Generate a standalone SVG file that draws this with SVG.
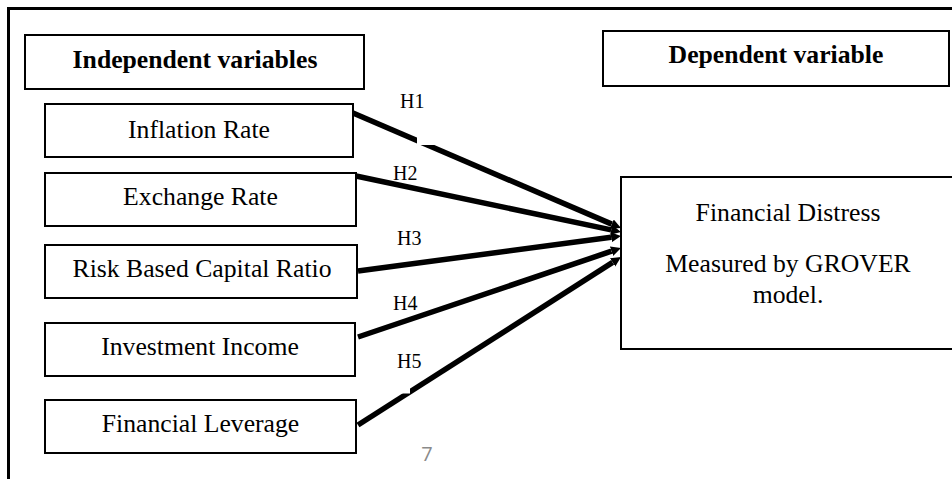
<svg xmlns="http://www.w3.org/2000/svg" width="952" height="479" viewBox="0 0 952 479">
<style>
.box{fill:#fff;stroke:#000;stroke-width:2}
.t{font-size:25.7px;fill:#000;text-anchor:middle}
.b{font-weight:bold}
.h{font-size:20px;fill:#000}
.c{stroke:#000;stroke-width:5.5;fill:none;marker-end:url(#ah)}
</style>
<defs>
<marker id="ah" markerUnits="userSpaceOnUse" markerWidth="12" markerHeight="12" refX="0" refY="5" orient="auto">
<path d="M0,0 L10,5 L0,10 z" fill="#000"/>
</marker>
</defs>
<rect x="0" y="0" width="952" height="479" fill="#fff"/>
<rect id="frame" x="8.5" y="8.5" width="960" height="490" fill="none" stroke="#000" stroke-width="3"/>

<g id="connectors" font-family="Liberation Serif, DejaVu Serif, serif">
<line class="c" x1="353" y1="113" x2="611.8" y2="224.1"/>
<line class="c" x1="356" y1="176" x2="611.2" y2="229.9"/>
<line class="c" x1="358" y1="271" x2="611.1" y2="237.3"/>
<line class="c" x1="358" y1="337" x2="611.5" y2="251.2"/>
<line class="c" x1="358" y1="425" x2="612.6" y2="262.4"/>
<rect x="417" y="110" width="18" height="35" fill="#fff"/>
<rect x="385" y="372" width="25" height="21.5" fill="#fff"/>
<text class="h" x="400" y="108">H1</text>
<text class="h" x="393" y="180">H2</text>
<text class="h" x="397" y="245">H3</text>
<text class="h" x="393" y="310">H4</text>
<text class="h" x="397" y="368">H5</text>
</g>

<g font-family="Liberation Serif, DejaVu Serif, serif">
<g id="independent-header">
<rect class="box" x="25" y="35" width="339" height="54"/>
<text class="t b" x="195" y="68">Independent variables</text>
</g>
<g id="dependent-header">
<rect class="box" x="603" y="31" width="346" height="55"/>
<text class="t b" x="776" y="63">Dependent variable</text>
</g>
<g id="inflation-rate">
<rect class="box" x="45" y="104" width="308" height="53"/>
<text class="t" x="199" y="138">Inflation Rate</text>
</g>
<g id="exchange-rate">
<rect class="box" x="45" y="173" width="311" height="53"/>
<text class="t" x="200.5" y="205">Exchange Rate</text>
</g>
<g id="risk-based-capital-ratio">
<rect class="box" x="45" y="245" width="312" height="53"/>
<text class="t" x="202" y="277">Risk Based Capital Ratio</text>
</g>
<g id="investment-income">
<rect class="box" x="45" y="323" width="310" height="53"/>
<text class="t" x="200" y="355">Investment Income</text>
</g>
<g id="financial-leverage">
<rect class="box" x="45" y="400" width="311" height="53"/>
<text class="t" x="200.5" y="432">Financial Leverage</text>
</g>
<g id="financial-distress">
<rect class="box" x="621" y="177" width="340" height="172"/>
<text class="t" x="788" y="221">Financial Distress</text>
<text class="t" x="788" y="272">Measured by GROVER</text>
<text class="t" x="788" y="303">model.</text>
</g>
</g>
<text x="427" y="461" font-family="Open Sans, Liberation Sans, sans-serif" font-size="20" fill="#8a8a8a" text-anchor="middle">7</text>
</svg>
